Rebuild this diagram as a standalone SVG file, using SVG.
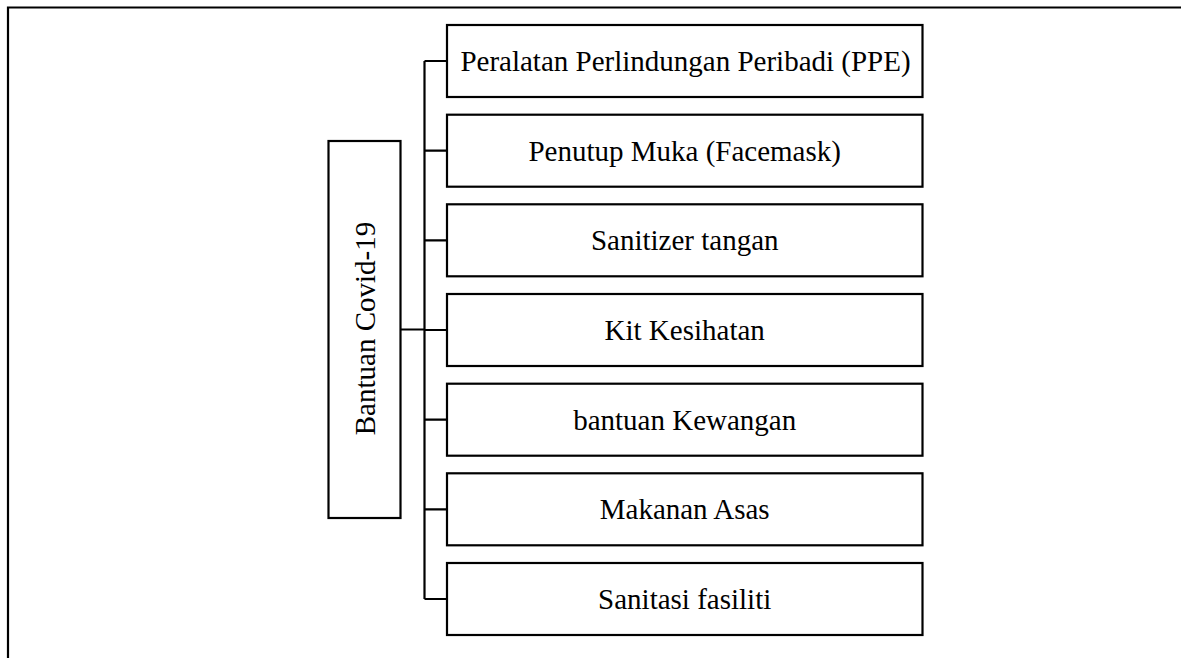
<svg xmlns="http://www.w3.org/2000/svg" width="1181" height="658" viewBox="0 0 1181 658">
<style>
.box{fill:#fff;stroke:#000;stroke-width:2.2}
.ln{fill:none;stroke:#000;stroke-width:2.2}
.t{font-family:"Liberation Serif","Times New Roman",serif;font-size:29px;fill:#000;text-anchor:middle;dominant-baseline:central}
</style>
<rect width="1181" height="658" fill="#fff"/>
<path class="ln" d="M8,660 V7.5 H1185"/>
<g id="connectors">
<path class="ln" d="M401,329.5 H424.5 M424.5,61 V599 M424.5,61 H447 M424.5,150.7 H447 M424.5,240.3 H447 M424.5,330 H447 M424.5,419.7 H447 M424.5,509.3 H447 M424.5,599 H447"/>
</g>
<g id="root"><rect class="box" x="328.5" y="141" width="72" height="377"/><text class="t" transform="translate(365,328.5) rotate(-90)">Bantuan Covid-19</text></g>
<g id="n1"><rect class="box" x="447" y="25" width="475.5" height="72"/><text class="t" x="685.5" y="61">Peralatan Perlindungan Peribadi (PPE)</text></g>
<g id="n2"><rect class="box" x="447" y="114.7" width="475.5" height="72"/><text class="t" x="684.7" y="150.7">Penutup Muka (Facemask)</text></g>
<g id="n3"><rect class="box" x="447" y="204.3" width="475.5" height="72"/><text class="t" x="684.7" y="240.3">Sanitizer tangan</text></g>
<g id="n4"><rect class="box" x="447" y="294" width="475.5" height="72"/><text class="t" x="684.7" y="330">Kit Kesihatan</text></g>
<g id="n5"><rect class="box" x="447" y="383.7" width="475.5" height="72"/><text class="t" x="684.7" y="419.7">bantuan Kewangan</text></g>
<g id="n6"><rect class="box" x="447" y="473.3" width="475.5" height="72"/><text class="t" x="684.7" y="509.3">Makanan Asas</text></g>
<g id="n7"><rect class="box" x="447" y="563" width="475.5" height="72"/><text class="t" x="684.7" y="599">Sanitasi fasiliti</text></g>
</svg>
